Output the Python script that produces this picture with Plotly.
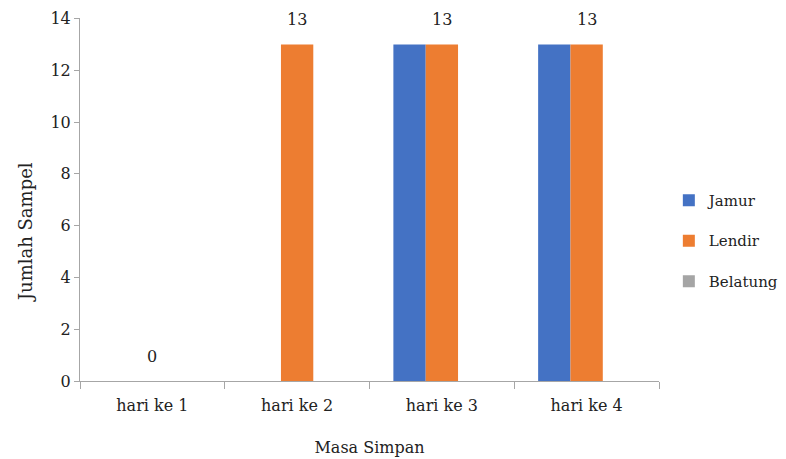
import plotly.graph_objects as go

categories = ["hari ke 1", "hari ke 2", "hari ke 3", "hari ke 4"]
jamur = [0, 0, 13, 13]
lendir = [0, 13, 13, 13]
belatung = [0, 0, 0, 0]
y_ticks = [0, 2, 4, 6, 8, 10, 12, 14]

FONT = "DejaVu Serif"
fig = go.Figure()
series = [("Jamur", jamur, "#4472C4"), ("Lendir", lendir, "#ED7D31"), ("Belatung", belatung, "#A5A5A5")]
for name, vals, col in series:
    fig.add_trace(go.Bar(x=categories, y=vals, name=name, marker_color=col,
                         marker_line_width=0, legendgroup=name))

for c, v in zip(categories, lendir):
    fig.add_annotation(x=c, y=v, xref="x", yref="y", text=str(v), showarrow=False,
                       yanchor="bottom", yshift=13, font=dict(family=FONT, size=16, color="#222"))

# y-axis title (placed as annotation to match the reference's offset position)
fig.add_annotation(x=-0.095, y=0.41, xref="paper", yref="paper", text="Jumlah Sampel",
                   textangle=-90, showarrow=False, xanchor="center", yanchor="middle",
                   font=dict(family=FONT, size=18, color="#222"))

fig.update_layout(
    width=778, height=451,
    margin=dict(l=72, r=127, t=10, b=78, autoexpand=False),
    paper_bgcolor="white", plot_bgcolor="white",
    barmode="group", bargap=0.33, bargroupgap=0,
    font=dict(family=FONT, size=16, color="#222"),
    legend=dict(x=1.017, y=0.386, xanchor="left", yanchor="middle",
                traceorder="grouped", tracegroupgap=18,
                font=dict(family=FONT, size=15, color="#222")),
    xaxis=dict(showline=True, linecolor="#A6A6A6", linewidth=1, ticks="outside",
               tickson="boundaries", ticklen=7, tickcolor="#A6A6A6",
               ticklabelstandoff=10,
               showgrid=False, automargin=False,
               title=dict(text="Masa Simpan", font=dict(family=FONT, size=16), standoff=27)),
    yaxis=dict(range=[0, 14.02], tickvals=y_ticks, showline=True, linecolor="#A6A6A6",
               linewidth=1, ticks="outside", ticklen=5, tickcolor="#A6A6A6",
               showgrid=False, zeroline=False, automargin=False),
)

fig.write_html("out.html")
